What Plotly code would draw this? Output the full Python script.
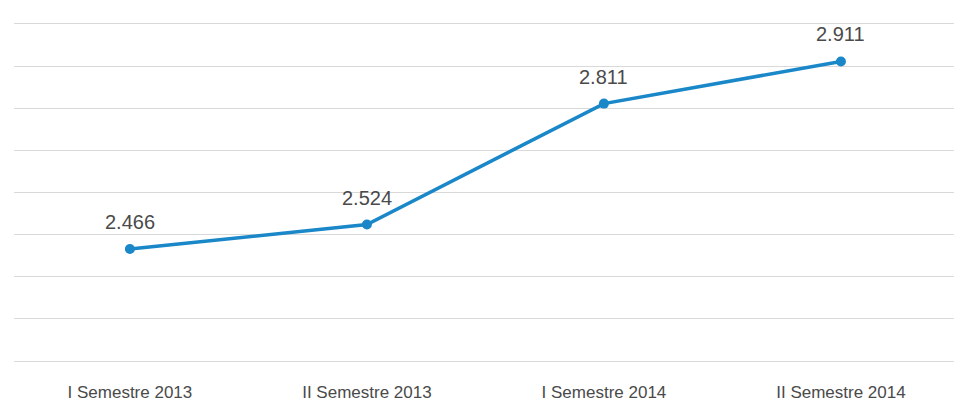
import plotly.graph_objects as go

# Data
periods = ["I Semestre 2013", "II Semestre 2013", "I Semestre 2014", "II Semestre 2014"]
values = [2.466, 2.524, 2.811, 2.911]
labels = ["2.466", "2.524", "2.811", "2.911"]
grid_vals = [2.2, 2.3, 2.4, 2.5, 2.6, 2.7, 2.8, 2.9, 3.0]

line_color = "#1a87c9"
text_color = "#4a4a4a"

fig = go.Figure(go.Scatter(
    x=list(range(len(periods))),
    y=values,
    mode="lines+markers",
    line=dict(color=line_color, width=3.5),
    marker=dict(color=line_color, size=10),
    hoverinfo="skip",
))

# value labels above the points
for i, (v, lab) in enumerate(zip(values, labels)):
    fig.add_annotation(x=i, y=v, text=lab, showarrow=False, yshift=27,
                       font=dict(size=20, color=text_color))

fig.update_layout(
    width=954, height=406,
    margin=dict(l=14, r=0, t=21, b=42, autoexpand=False),
    paper_bgcolor="white", plot_bgcolor="white",
    showlegend=False,
    font=dict(family="Liberation Sans, Arial, sans-serif", color=text_color),
)

fig.update_xaxes(
    range=[-0.489, 3.477],
    tickvals=list(range(len(periods))), ticktext=periods,
    tickfont=dict(size=17, color=text_color),
    showgrid=False, zeroline=False, showline=False,
    ticks="", ticklabelstandoff=16,
)

# pad the range a little so the first and last grid lines are drawn
fig.update_yaxes(
    range=[2.193, 3.007], tickvals=grid_vals,
    showticklabels=False,
    showgrid=True, gridcolor="#d9d9d9", gridwidth=1,
    zeroline=False, showline=False, ticks="",
)

# drop the default body margin so the figure sits at the window's corner
fig.write_html("out.html", config={"displayModeBar": False},
               post_script="document.body.style.margin='0';")
